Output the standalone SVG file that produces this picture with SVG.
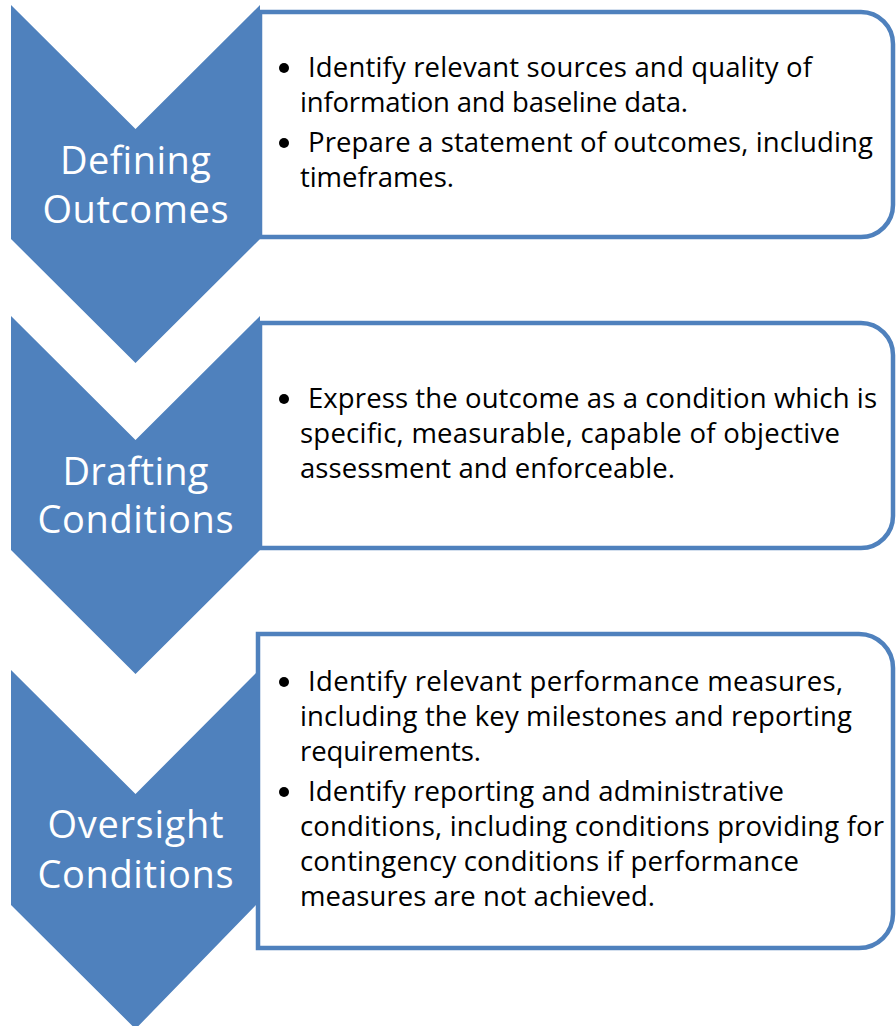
<svg xmlns="http://www.w3.org/2000/svg" width="896" height="1026" viewBox="0 0 896 1026">
  <style>
    .panel { fill: #FFFFFF; stroke: #4F81BD; stroke-width: 4.5; }
    .chevron { fill: #4F81BD; stroke: none; }
    .label { font-family: "Open Sans", "Noto Sans", sans-serif; font-size: 38px; fill: #FFFFFF; text-anchor: middle; }
    .item { font-family: "Open Sans", "Noto Sans", sans-serif; font-size: 27.5px; fill: #000000; }
    .dot { fill: #000000; }
  </style>
  <rect width="896" height="1026" fill="#FFFFFF"/>

  <!-- detail panels (drawn first so the chevrons sit over their left edges) -->
  <g id="panel-defining">
    <path class="panel" d="M260,12 H861 A32,32 0 0 1 893,44 V205 A32,32 0 0 1 861,237 H260 Z"/>
    <circle class="dot" cx="284" cy="68" r="5"/>
    <text class="item" x="308" y="77" textLength="504">Identify relevant sources and quality of</text>
    <text class="item" x="300" y="112" textLength="388">information and baseline data.</text>
    <circle class="dot" cx="284" cy="143" r="5"/>
    <text class="item" x="308" y="152" textLength="565">Prepare a statement of outcomes, including</text>
    <text class="item" x="300" y="187" textLength="154">timeframes.</text>
  </g>

  <g id="panel-drafting">
    <path class="panel" d="M260,323 H861 A32,32 0 0 1 893,355 V516 A32,32 0 0 1 861,548 H260 Z"/>
    <circle class="dot" cx="284" cy="399" r="5"/>
    <text class="item" x="308" y="408" textLength="569">Express the outcome as a condition which is</text>
    <text class="item" x="300" y="443" textLength="540">specific, measurable, capable of objective</text>
    <text class="item" x="300" y="478" textLength="375">assessment and enforceable.</text>
  </g>

  <g id="panel-oversight">
    <path class="panel" d="M258,634 H859 A34,34 0 0 1 893,668 V914 A34,34 0 0 1 859,948 H258 Z"/>
    <circle class="dot" cx="284" cy="682" r="5"/>
    <text class="item" x="308" y="691" textLength="535">Identify relevant performance measures,</text>
    <text class="item" x="300" y="726" textLength="552">including the key milestones and reporting</text>
    <text class="item" x="300" y="761" textLength="181">requirements.</text>
    <circle class="dot" cx="284" cy="792" r="5"/>
    <text class="item" x="308" y="801" textLength="476">Identify reporting and administrative</text>
    <text class="item" x="300" y="836" textLength="584">conditions, including conditions providing for</text>
    <text class="item" x="300" y="871" textLength="499">contingency conditions if performance</text>
    <text class="item" x="300" y="906" textLength="355">measures are not achieved.</text>
  </g>

  <!-- process chevrons -->
  <g id="step-defining">
    <path class="chevron" d="M11,5 L135.5,129 L260,5 V239 L135.5,363 L11,239 Z"/>
    <text class="label" x="135.5" y="174" textLength="151">Defining</text>
    <text class="label" x="135.5" y="223" textLength="186">Outcomes</text>
  </g>

  <g id="step-drafting">
    <path class="chevron" d="M11,316 L135.5,440 L260,316 V550 L135.5,674 L11,550 Z"/>
    <text class="label" x="135.5" y="485" textLength="146">Drafting</text>
    <text class="label" x="135.5" y="533" textLength="196">Conditions</text>
  </g>

  <g id="step-oversight">
    <path class="chevron" d="M11,670 L135.5,794 L256,673 V905 L135.5,1029 L11,905 Z"/>
    <text class="label" x="135.5" y="838" textLength="176">Oversight</text>
    <text class="label" x="135.5" y="888" textLength="196">Conditions</text>
  </g>

  <!-- no separate connectors: the chevrons chain into one another -->
  <g id="connectors"/>
</svg>
